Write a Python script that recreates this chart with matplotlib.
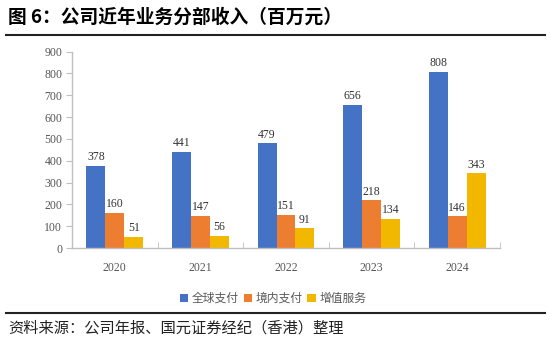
import matplotlib.pyplot as plt
import numpy as np

plt.rcParams['font.family'] = ['Noto Sans CJK SC', 'DejaVu Sans']

years = ['2020', '2021', '2022', '2023', '2024']
global_pay = [378, 441, 479, 656, 808]
domestic_pay = [160, 147, 151, 218, 146]
value_added = [51, 56, 91, 134, 343]
series_names = ['全球支付', '境内支付', '增值服务']
colors = ['#4472C4', '#ED7D31', '#F2B800']

fig = plt.figure(figsize=(5.5, 3.44), dpi=100)
ax = fig.add_axes([0.131, 0.279, 0.778, 0.571])

x = np.arange(len(years))
w = 0.222
serif = 'Liberation Serif'
for k, (vals, name, c) in enumerate(zip([global_pay, domestic_pay, value_added], series_names, colors)):
    bars = ax.bar(x + (k - 1) * w, vals, w, color=c, label=name)
    for b, v in zip(bars, vals):
        ax.text(b.get_x() + b.get_width() / 2, v + 12, str(v), ha='center', va='bottom',
                fontsize=8.5, family=serif, color='#333333')

ax.set_xlim(-0.5, len(years) - 0.5)
ax.set_ylim(0, 900)
ax.set_yticks(range(0, 901, 100))
ax.set_xticks(x)
ax.set_xticklabels(years)
ax.set_xticks(np.arange(-0.5, len(years), 1), minor=True)
ax.tick_params(axis='x', which='major', length=0, pad=10)
ax.tick_params(axis='x', which='minor', length=4, direction='in', color='#BFBFBF')
ax.tick_params(axis='y', length=4, color='#BFBFBF', pad=3)
for lab in ax.get_xticklabels() + ax.get_yticklabels():
    lab.set_family(serif)
    lab.set_fontsize(8.5)
    lab.set_color('#555555')
for s in ['top', 'right']:
    ax.spines[s].set_visible(False)
for s in ['left', 'bottom']:
    ax.spines[s].set_color('#BFBFBF')
    ax.spines[s].set_linewidth(1.0)

leg = ax.legend(loc='upper center', bbox_to_anchor=(0.47, -0.17), ncol=3, frameon=False,
                fontsize=8.5, handlelength=0.7, handleheight=0.7, handletextpad=0.3, columnspacing=0.4)
for t in leg.get_texts():
    t.set_color('#595959')

fig.text(0.015, 0.95, '图 6：公司近年业务分部收入（百万元）', fontsize=13.5, fontweight='bold', va='center')
fig.add_artist(plt.Line2D([0.01, 0.99], [0.897, 0.897], color='#222222', linewidth=1.5))
fig.add_artist(plt.Line2D([0.01, 0.99], [0.09, 0.09], color='#222222', linewidth=1.5))
fig.text(0.015, 0.045, '资料来源：公司年报、国元证券经纪（香港）整理', fontsize=11, va='center', color='#222222')

fig.savefig('out.png', dpi=100)
